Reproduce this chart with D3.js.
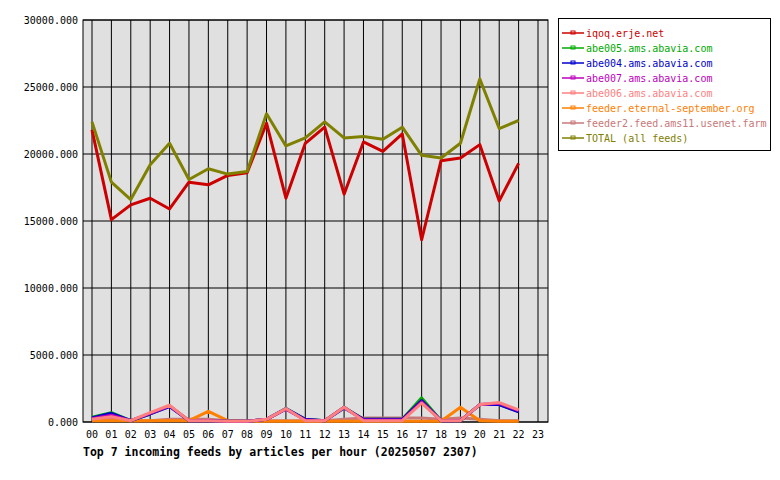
<!DOCTYPE html><html><head><script src="https://cdn.jsdelivr.net/npm/d3@7"></script>
<style>body{margin:0;background:#fff}text{font-family:"DejaVu Sans Mono",monospace;font-size:10px}</style></head><body><svg id="c" width="780" height="480"></svg>
<script>
const hours=["00","01","02","03","04","05","06","07","08","09","10","11","12","13","14","15","16","17","18","19","20","21","22","23"];
const yTicks=[0,5000,10000,15000,20000,25000,30000];
const names=["iqoq.erje.net","abe005.ams.abavia.com","abe004.ams.abavia.com","abe007.ams.abavia.com","abe006.ams.abavia.com","feeder.eternal-september.org","feeder2.feed.ams11.usenet.farm","TOTAL (all feeds)"];
const colors=["#cc0000","#00aa00","#0000cc","#bb00bb","#ff7f7f","#ff8000","#c87878","#808000"];
const iqoq=[21800,15100,16200,16700,15900,17900,17700,18400,18600,22300,16700,20800,22000,17000,20900,20200,21500,13600,19500,19700,20700,16500,19300];
const abe005=[350,700,100,600,1200,100,100,50,50,200,1000,200,100,1100,200,200,200,1800,100,100,1300,1300,800];
const abe004=[300,650,100,600,1150,100,100,50,50,200,1000,200,100,1050,200,200,200,1600,100,100,1300,1300,750];
const abe007=[250,500,100,650,1200,100,100,50,50,200,950,150,100,1100,150,150,150,1500,100,100,1300,1400,850];
const abe006=[200,400,100,700,1250,100,100,50,50,200,1000,100,100,1100,100,100,100,1400,100,100,1300,1450,900];
const eternal=[100,100,100,100,100,100,800,100,50,50,50,50,50,50,50,50,50,50,50,1100,100,50,50];
const feeder2=[200,200,100,100,200,200,200,100,50,100,100,100,100,200,300,300,300,300,200,300,200,100,100];
const total=[22400,17900,16600,19200,20800,18100,18900,18500,18700,23000,20600,21200,22400,21200,21300,21100,22000,19900,19700,20800,25600,21900,22500];
const series=[iqoq,abe005,abe004,abe007,abe006,eternal,feeder2,total];
const svg=d3.select("#c");
const L=83,R=548,T=20,B=422;
svg.append("rect").attr("x",L).attr("y",T).attr("width",R-L).attr("height",B-T).attr("fill","#e0e0e0");
const x=d3.scalePoint().domain(hours).range([92,538]);
const y=d3.scaleLinear().domain([0,30000]).range([B,T]);
const g=svg.append("g");
hours.forEach(h=>g.append("line").attr("x1",x(h)).attr("x2",x(h)).attr("y1",T).attr("y2",B).attr("stroke","#000"));
yTicks.forEach(t=>g.append("line").attr("x1",L).attr("x2",R).attr("y1",y(t)).attr("y2",y(t)).attr("stroke","#000"));
svg.append("rect").attr("x",L).attr("y",T).attr("width",R-L).attr("height",B-T).attr("fill","none").attr("stroke","#000");
yTicks.forEach(t=>svg.append("text").attr("x",L-5).attr("y",y(t)+4).attr("text-anchor","end").text(d3.format(".3f")(t)));
hours.forEach(h=>svg.append("text").attr("x",x(h)).attr("y",438).attr("text-anchor","middle").text(h));
const line=d3.line().x((d,i)=>x(hours[i])).y(d=>y(d));
[6,5,1,2,3,4,0,7].forEach(i=>svg.append("path").attr("d",line(series[i])).attr("fill","none").attr("stroke",colors[i]).attr("stroke-width",3).attr("stroke-linejoin","round"));
svg.append("text").attr("x",83).attr("y",456).style("font-weight","bold").style("font-size","11.5px").text("Top 7 incoming feeds by articles per hour (20250507 2307)");
const lg=svg.append("g");
lg.append("rect").attr("x",558.5).attr("y",18.5).attr("width",212).attr("height",132).attr("fill","#fff").attr("stroke","#000");
names.forEach((n,i)=>{const yy=33+i*15;
lg.append("line").attr("x1",562).attr("x2",584).attr("y1",yy).attr("y2",yy).attr("stroke",colors[i]).attr("stroke-width",1.5);
lg.append("rect").attr("x",571).attr("y",yy-2).attr("width",4).attr("height",3).attr("fill","none").attr("stroke",colors[i]);
lg.append("text").attr("x",586).attr("y",yy+4).attr("fill",colors[i]).text(n);});
</script></body></html>
